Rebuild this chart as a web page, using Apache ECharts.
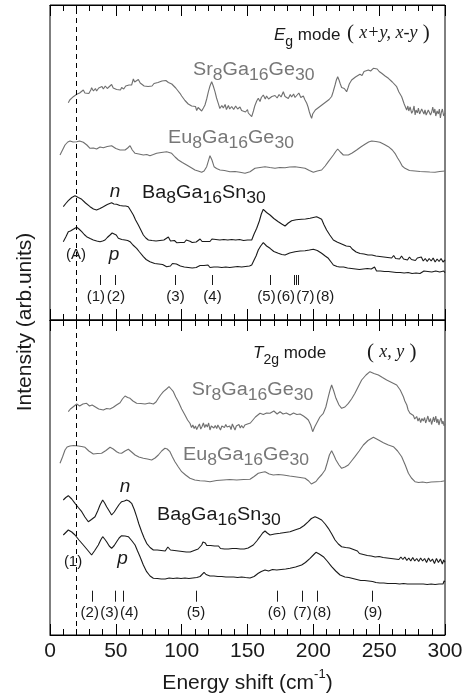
<!DOCTYPE html>
<html><head><meta charset="utf-8">
<script src="https://cdn.jsdelivr.net/npm/echarts@6/dist/echarts.min.js"></script>
<style>html,body{margin:0;padding:0;background:#fff}#c{width:466px;height:698px}</style>
</head><body><div id="c"></div>
<script>
// ---------- data: [energy shift (cm-1), intensity (arb.)] ----------
const xTickValues = [0, 50, 100, 150, 200, 250, 300];

// Eg mode panel
const egSr = [[13.9,217.3],[15,220],[16,218.5],[17.7,223.3],[19,222],[20.3,225.7],[21.5,224],[22.5,227],[24,225.5],[25.3,230],[26.5,227],[28,229],[29.5,226.5],[31,230],[31.6,232.3],[33,229],[34.5,231.5],[35.4,229],[37,232],[38,230],[39.5,233.5],[40.5,231],[42,234],[43.5,231.5],[45,233],[46.8,235.5],[48,232],[49.5,233.5],[50.6,230.5],[52,232.5],[53.5,230],[54.4,232.5],[56,231],[57.5,234],[58.5,232.5],[60,235],[61,237],[62,235],[63.3,241],[64.3,238],[65.5,239.5],[67.1,240.5],[68.5,237],[70,236],[71.5,234],[73,235.5],[74.5,233.5],[76,235],[77.5,234],[79,236.5],[80.5,235],[82,237.5],[83.5,236],[85,239],[86.5,237.5],[88,239.5],[89.9,237.5],[91,239],[92.5,236],[94,234.5],[95.5,232],[97,229.5],[98.7,226.7],[100,224],[101.5,222],[102.5,219.5],[104,218.5],[105,216],[106.5,217.5],[107.6,214],[109,212.5],[110.5,213.5],[111.4,209.5],[112.5,212.5],[114,211],[115.2,209],[116.5,212],[117.7,215],[119,221],[120.3,228.3],[121.5,234],[122.8,238.3],[124,234],[125.3,228.3],[126.5,222],[127.8,216.7],[129,211.5],[130.5,214.5],[131.6,212],[133,215.5],[134,210.5],[135.5,214.5],[136.5,211],[138,213.5],[139.5,210.5],[141,214],[142.5,211],[144.3,213],[145.5,209.5],[147,211.5],[148.5,208],[150,210.5],[150.6,207],[152,209],[153.2,203.3],[154.5,209],[155.5,214],[157,219],[158.2,221.7],[159.5,218.5],[160.5,222.5],[162,225],[163.5,221],[164.5,224],[166,221],[167.1,219.5],[168.5,223.5],[170,221.5],[170.9,224.5],[172.5,222],[174,225.5],[175.5,223],[177.2,228.3],[178.5,223.5],[180,225],[181,221.5],[182.5,225.5],[183.5,223],[185,226],[186.1,222.5],[187.5,224.5],[189,227],[190.5,222.5],[192.4,224],[193.5,220.5],[195,216.7],[196,213],[197,208],[198,204],[198.7,201.7],[199.5,206],[200.5,204.5],[201.5,210],[202.5,208.5],[204,212.5],[205,211.5],[206.5,215],[207.6,214.5],[209,217.5],[210.5,216.5],[212,220.5],[213.9,223.5],[215,228],[216.5,235],[217.5,240],[218.5,243.3],[219.5,240],[220.5,236],[221.5,232.5],[222.5,230.5],[223.5,231.5],[225.3,228.3],[226.3,232],[227.3,236],[228.3,235],[229.1,240],[230.5,239.5],[232,243],[233.5,242],[235.4,245.7],[237,244.5],[238.5,248.5],[240,247.5],[241.8,250],[243.5,249],[245.6,251.7],[247,250.5],[248.5,251],[250,248.5],[251.9,246.7],[253,247.5],[254.5,244],[256,244.5],[257,241.7],[258.5,241],[260,238],[261.5,237.5],[263.3,233.3],[264.3,234.5],[265,228],[266,230],[267.1,223.3],[268,225],[269,216],[270,218],[270.9,210],[271.8,214],[272.5,209],[273.5,213],[274.7,206.7],[275.6,209],[276.5,214],[277.3,205],[278,210],[279,207],[279.8,212],[280.7,206],[281.5,204],[282.3,211],[283,213],[284,206],[284.8,210],[285.7,205],[286.5,203],[287.3,210],[288,212],[289,205],[289.9,208],[290.7,213],[291.5,207],[292.3,211],[293,204],[294,209],[294.9,206],[295.7,211],[296.5,202],[297.3,208],[298,211],[299,204],[300,207]];
const egEu = [[7.6,165],[9.5,170],[11.4,175],[13.5,178],[15.2,179],[17.5,178],[20.3,178.3],[22.5,179],[25.3,177.7],[28,175],[30.4,171.7],[33,172],[35.4,171],[38,173],[40.5,172.3],[43.5,173.5],[46.8,174.3],[50,171.5],[53.2,170],[57,170],[59,172],[60.8,174.3],[62.5,170],[64.6,166.7],[67.5,166],[70.9,165],[73.5,165.5],[75.9,164.3],[78.5,165.5],[81,166.7],[84.5,167.5],[88.6,168.3],[92.4,166.7],[95,163],[97.5,160],[100.5,157.5],[103.8,155],[107,152.5],[110.1,150],[112.5,149],[115.2,147.7],[117,149],[119,153.3],[121.5,164.3],[123,160],[124.6,153.3],[126.5,151.5],[129.1,150],[132.5,149.5],[136.7,148.3],[140.5,148.5],[144.3,147.7],[148.1,146.7],[151.9,148.3],[155.7,151.7],[159.5,152.5],[163.3,153.3],[167,152.5],[170.9,151.7],[174.5,152.5],[178.5,152.3],[182,153],[186.1,153.3],[190,152.5],[193.7,151.7],[197,149.5],[200,147.7],[203,149],[206.3,150],[209,154],[211.4,158.3],[213.5,162],[215.2,165],[217,168.5],[218.5,171],[220.5,168],[222.8,165],[226.6,165],[229.5,167],[232.9,170],[236,173],[239.2,175.7],[242,178],[244.3,179],[247.5,178.5],[250.6,177.7],[254,175.5],[257,173.3],[260,170],[262,166.7],[264,162],[265.8,158.3],[267.5,154],[269.6,151.7],[273,149.5],[277.2,149],[281,148.5],[284.8,148.3],[288.5,148],[292.4,147.7],[296,148.5],[300,149]];
const egBaN = [[10.1,113.3],[12,116.5],[13.9,119.3],[16.5,122.5],[19,124.3],[21.5,122.5],[24.1,120.7],[27,117],[30.4,113.3],[33,111],[35.4,110],[38,111.5],[40.5,113.3],[43.5,115.5],[46.8,117.3],[48.5,116],[50.6,115.7],[53,114.5],[55.7,114],[57.5,114],[59.5,113.3],[61.5,109],[63.3,105],[65,100],[67.1,95],[69,90],[70.9,85],[72.8,82],[74.7,80],[76,78.5],[77.5,79.5],[79,78],[80.5,79],[82,77.5],[83.5,79.5],[85,78.5],[86.5,80],[88,79],[89.9,83],[91.5,79],[93,78],[94.5,79.5],[96.2,77.3],[97.5,78.8],[99,77.5],[100.5,79],[102,77.5],[103.5,80],[105,78],[106.3,78.8],[108,77.5],[109.5,79.5],[111,78],[112.5,80],[114,81],[115.5,78.5],[117,80],[118.5,78.5],[120,80.5],[121.5,78.5],[123,81],[124.5,79],[126,80.5],[127.5,78.5],[129,80],[130.5,79],[132,80.5],[133.5,78.5],[135,80],[136.5,79],[138,80.5],[139.5,78.5],[141,80],[142.5,79],[144,80.5],[145.5,78.5],[147,79.5],[148.5,78.5],[150,80],[151.5,79],[153.2,80],[155,86],[157,91.7],[159,99],[160.5,106],[162,110.7],[164.5,107.5],[167.1,105],[170,101.5],[173.4,98.3],[176,96],[178.5,94],[181,97],[183.5,99.3],[187,100.2],[191.1,100.7],[194,101],[197.5,101.7],[200,102.5],[202.5,103.3],[204.5,102],[206.3,100.7],[208,95.5],[210.1,90],[212.5,85],[215.2,80],[218,78],[221.5,76],[225,74],[226.5,72.5],[228,73.5],[229.5,71],[231,70],[232.5,68],[234,68.5],[235.5,66.5],[237,67.5],[238.5,66],[240,67],[241.5,65],[243,66.5],[244.5,65],[246,66.5],[247.5,64],[249,65.5],[250.5,63.5],[252,65],[253.5,63],[255,64.5],[256.5,62.5],[258,64],[259.5,62],[261,64.5],[262.5,61.5],[264,63],[265.5,61],[267,64],[268.5,61],[270,62.5],[271.5,60],[273,63],[274.5,60.5],[276,62.5],[277.5,59.5],[279,62],[280.5,60],[282,63],[283.5,59],[285,61.5],[286.5,58.5],[288,61.5],[289.5,59],[291,62],[292.5,58],[294,61],[295.5,58.5],[297,61.5],[298.5,58],[300,60]];
const egBaP = [[10.1,78.3],[12,83],[13.9,88.3],[15.5,89],[17.7,90.7],[19,91],[20.3,92.7],[22,91],[24.1,88.3],[26,85.5],[27.8,83.3],[30.5,81.5],[32.9,80],[35.5,79],[38,78.3],[40,79],[41.8,80],[43.5,82.5],[45.6,85],[47.2,87],[48.6,88.3],[50.3,85],[51.9,81.7],[54.5,80.5],[57,80],[59,79.5],[60.8,78.3],[63,75],[65.8,71.7],[68,68],[70.9,63.3],[73,60.5],[75.9,58.3],[79.5,56.5],[81,55.5],[82.5,56],[84,54.5],[85.5,55.5],[87,53.5],[88.6,53.3],[90,55],[91.5,54],[93,56.5],[94.5,55],[96,56],[97.5,54.5],[99,54],[100.5,55],[102,53],[103.5,54.5],[105,52.5],[106.5,53.5],[108,52],[109.5,54],[111,52.5],[112.5,53.5],[114,54.5],[115.5,53],[117,54.5],[118.5,53],[120,55],[121.5,52.5],[123,54.5],[124.5,53],[126,55],[127.5,53],[129,54.5],[130.5,52.5],[132,54.5],[133.5,53],[135,54.5],[136.5,52.5],[138,54],[139.5,53],[141,55],[142.5,53.5],[144,55],[145.5,53],[147,54.5],[148.5,53.5],[150,55],[151.5,54],[153.2,55],[155,60],[156.5,64],[158.2,70],[160,74],[162,77.3],[164.5,74],[167.1,71.7],[170,68.5],[173.4,66.7],[176,65.5],[178.5,65],[182,67],[186.1,68.3],[190,69],[193.7,69.3],[197,70],[200,70.7],[203,69.5],[206.3,66.7],[209,64],[211.4,61.7],[213.5,58],[215.2,55],[218,53.5],[220,53],[221.5,52],[223,53],[224.5,51],[226,52],[227.5,50.5],[229,51.5],[230.5,50],[232,51],[233.5,49.5],[235,50.5],[236.5,49.5],[238,51],[239.5,50],[241,51.5],[242.5,49.5],[244,51],[245.5,52.5],[246.5,53],[248,49],[249.5,50.5],[251,49],[252.5,50.5],[254,48.5],[255.5,50],[257,48.5],[258.5,50],[260,48],[261.5,49.5],[263,47.5],[264.5,49],[266,47.5],[267.5,49],[269,47],[270.5,49],[272,47.5],[273.5,48.5],[275,46.5],[276.5,48.5],[278,47],[279.5,48.5],[281,46.5],[282.5,48.5],[284,49],[285.5,47],[287,48.5],[288.5,46.5],[290,48],[291.5,46.5],[293,49],[294.5,47],[296,48],[297.5,46.5],[299,49],[300,47.3]];

// T2g mode panel
const t2Sr = [[13.9,223.3],[15.5,226],[17.7,228.3],[20.3,231],[22.5,229],[25,231],[27.8,231.7],[30,229],[32,230],[34.2,228.3],[37,226],[40.5,225],[43,226.5],[45.5,226],[48.1,227.7],[50.5,230],[53.2,232.3],[55,236],[57,239],[59,237.5],[60.8,236.7],[63,234],[65.8,231.7],[69,231.5],[72.2,231],[75.5,232],[78.5,231],[80.5,233],[82.3,236.7],[84,240],[86.1,243.3],[88.5,246],[90.4,248.3],[92,246],[93.7,243.3],[95.5,238],[97.5,233.3],[100,226],[102.5,220],[104.5,215],[105.5,213],[106.3,211.7],[107.5,207.5],[108.5,210],[109.5,206.5],[110.5,209],[111.4,205.5],[112.5,208.5],[113.5,211],[114.5,206],[115.5,208.5],[116.5,212],[117.5,207.5],[118.5,210.5],[119.5,208],[120.5,212],[121.5,205],[122.5,209],[123.5,211],[124.5,207],[125.5,209.5],[126.6,206.5],[127.5,210],[128.5,207.5],[129.5,205],[130.5,209],[131.5,211],[132.5,207.5],[133.5,210.5],[134.5,208],[135.5,206],[136.5,209],[137.5,205.5],[138.5,211],[139.5,208],[140.5,205],[141.5,209],[142.5,207],[143.5,210.5],[144.5,207],[145.5,209.5],[146.8,207],[148,210],[149,208],[150,211],[151,209.5],[152.2,212],[153.2,213.3],[156,218],[159.5,221.7],[162,220.5],[164.5,222],[167.1,221.7],[170,224],[172.5,221],[174.7,223.3],[177,221],[179.5,222],[182.3,220],[185,222],[187.5,220.5],[189.9,221],[192.5,219],[194.5,217],[196.2,215],[198,210],[199.5,203.3],[201,208],[202.5,211.7],[205,218],[207.6,221.7],[209.5,228],[211.4,238.3],[212.7,245],[213.9,250],[215.5,244],[217.2,236.7],[219.5,230],[221.5,226.7],[224,228],[226.6,231.7],[229,236],[231.6,241.7],[234,248],[236.7,255],[240,260],[243,263.3],[246,261.5],[249.4,260],[252.5,257.5],[255.7,255],[259.5,252.5],[263.3,250],[266,245],[268.4,238.3],[269.5,234],[271,230],[272,225],[273.4,221.7],[274.5,220],[276,219.5],[277,216],[278.5,218.5],[279.5,214],[280.5,217],[281.5,212.5],[282.5,216.5],[283.5,214],[284.5,217.5],[285.3,212],[286.1,215],[287,219],[288,213],[289,216.5],[289.8,210.5],[290.5,214],[291.3,218],[292,213],[293,219],[293.8,212],[294.6,216],[295.4,210],[296.2,214.5],[297,217],[297.8,211],[298.5,214],[299.3,209],[300,211]];
const t2Eu = [[7.6,171.7],[9.5,178],[11.4,185],[13,188],[15.2,189],[18,189.5],[21.5,189],[24,188.5],[26.6,187.7],[29.5,184],[32.9,181],[36,181.5],[39.2,181.7],[42.5,184.5],[45.6,187.7],[48,186],[50.6,183.3],[52.5,182],[54.4,181.7],[57,184],[59.5,185.7],[62,183],[64.6,180],[67.5,178],[70.9,176.7],[74,176],[77.2,175],[79.8,177],[82.3,180],[84.8,184],[87.3,186.7],[89,186],[91.1,183.3],[93,178],[94.9,173.3],[97.5,168],[100,163.3],[103,160],[106.3,156.7],[110,155],[113.9,154.3],[117.5,154],[121.5,153.3],[126.5,154.5],[131.6,155],[136.5,155.5],[141.8,155],[147,155.5],[151.9,155.7],[155,158.5],[158.2,161.7],[160.5,162.5],[163.3,163.3],[166.5,161],[169.6,160],[173.5,160.5],[177.2,160],[182,159],[186.1,158.3],[190,157.5],[193.7,156.7],[196.5,154],[198.5,151],[200,150],[202,153.5],[203.8,156.7],[206.5,160.5],[208.9,165],[210.5,172],[212.2,180],[213.9,184.3],[215.5,180],[217.2,175],[219.5,170],[221.5,166.7],[224,168],[226.6,170],[229,174],[231.6,178.3],[234.8,184],[238,190],[241.5,194.5],[245.6,197.7],[249.5,195],[253.2,192.3],[257,190],[260.8,188.3],[264,184],[267.1,178.3],[269.8,170],[272.2,161.7],[274.5,157],[277.2,153.3],[280,152.5],[283,153],[286.1,152.3],[289.5,153],[293.7,153.3],[297,153.5],[300,154.3]];
const t2BaN = [[10.1,135],[12,137.5],[13.9,139.3],[16.5,136],[19,131.7],[21.5,127.5],[24.1,123.3],[26.5,118],[29.1,113.3],[31.5,115.5],[34.2,118.3],[36.2,124],[38,130],[40,135],[41.5,132],[43,128.3],[45,124],[46.8,120],[48.8,123],[50.6,126.7],[52.5,130.5],[54.4,133.3],[56.5,134],[58.2,135],[60,134],[62,131.7],[64,125.5],[65.8,118.3],[67.5,111],[69.6,103.3],[71.5,97],[73.4,91.7],[76,87.5],[78.5,85],[80,83.5],[81.5,85],[83,83.5],[84.5,84.5],[86,82.5],[87.5,84],[88.5,84.5],[89.5,88],[90.5,87],[91.5,85],[93,83.5],[94.5,84.5],[96,82.5],[97.5,84],[99,82],[100.5,83.5],[102,81.5],[103.5,83],[105,81.5],[106.5,83],[108,82.5],[109.5,84.5],[111,84],[112.5,86],[113.5,87.5],[115.2,90],[116.2,93],[117,95],[118,92],[119,89.5],[120.5,88],[122,89.5],[123.5,87.5],[125,89],[126.5,87.5],[128,89],[129.5,86.5],[131,88],[132.5,86],[134,87.5],[135.5,86],[137,88],[138.5,86.5],[140,88],[141.5,86.5],[143,88],[144.5,86],[146,87.5],[147.5,86],[149,88],[150.5,87],[152,88.5],[154.4,90],[157,94],[159.5,98.3],[161.5,102],[163.3,104],[165,102],[167.1,100],[170.5,101],[174.7,101.7],[178.5,102.5],[182.3,103.3],[186,105],[189.9,106.7],[193,109.5],[196.2,113.3],[198.5,116.5],[201.3,118.3],[203.5,117],[206.3,115],[209,111],[211.4,106.7],[214,101],[216.5,95],[219,91],[221.5,88.3],[224.5,87.5],[226,86],[227.5,87],[229,85],[230.5,85.5],[232,83.5],[233.5,84],[235,81.5],[236.5,82.5],[238,80.5],[239.5,81.5],[241,79.5],[242.5,81],[244,79],[245.5,80.5],[247,78],[248.5,80],[250,78.5],[251.5,80],[253,77.5],[254.5,79.5],[256,77],[257.5,79],[259,76.5],[260.5,78.5],[262,76],[263.5,78],[265,75.5],[266.5,78],[268,75.5],[269.5,78],[271,74.5],[272.5,77],[274,74],[275.5,77.5],[277,74],[278.5,76.5],[280,73.5],[281.5,77],[283,74],[284.5,76.5],[286,72.5],[287.5,77],[289,73.5],[290.5,76],[292,71.5],[293.5,76.5],[295,72.5],[296.5,76],[298,71],[299,75],[300,72.7]];
const t2BaP = [[10.1,100],[12,102.5],[13.9,105],[16.5,103],[19,100],[22,95],[25.3,90],[28.5,85],[31.6,80],[34,84.5],[36.7,90],[38.5,95],[40,98.3],[41.5,96],[43,93.3],[45,89],[46.8,86.7],[48.8,89.5],[50.6,93.3],[52.5,97],[54.4,99.3],[57,99],[59.5,98.3],[62,94.5],[64.6,90],[66.5,84],[68.4,78.3],[70.9,70],[73.4,63.3],[76,59],[78.5,56.7],[80,55.5],[81.5,56.5],[83,55],[84.5,56],[86,54.5],[87.5,56],[89,55],[90.5,57],[92,55],[93.5,56.5],[95,55],[96.5,57],[98,55.5],[99.5,56.5],[101,55],[102.5,57],[104,55.5],[105.5,56.5],[107,55],[108.5,57],[110,56],[111.5,57.5],[113,57],[114,58.5],[115.5,60.5],[117,62.7],[118.5,60.5],[120,58.5],[121.5,59],[123,57.5],[124.5,59],[126,57],[127.5,58.5],[129,57],[130.5,58.5],[132,57],[133.5,58],[135,56.5],[136.5,58],[138,56.5],[139.5,58],[141,56.5],[142.5,57.5],[144,56],[145.5,58],[147,56.5],[148.5,57.5],[150,56],[151.9,57],[155,58.5],[158.2,61.7],[160.5,63.5],[163.3,65],[166,64],[169,65.5],[172.2,65],[175.5,65.5],[179,66],[182.3,66.7],[186.5,68],[191.1,70],[194,72.5],[197.5,76.7],[200,80],[202,82.7],[204.5,81],[207.6,78.3],[210.5,74],[213.9,68.3],[217,64],[220.3,60],[224,58],[225.5,57],[227,57.5],[228.5,56],[230,56.5],[231.5,55],[233,55.5],[234.5,53.5],[236,54.5],[237.5,53],[239,54.5],[240.5,53],[242,54],[243.5,52],[245,53.5],[246.5,55],[247.5,52.5],[249,53.5],[250.5,52],[252,53.5],[253.5,52],[255,53.5],[256.5,51.5],[258,53],[259.5,51.5],[261,53],[262.5,51.5],[264,52.5],[265.5,51],[267,53],[268.5,51.5],[270,53],[271.5,51],[273,52.5],[274.5,51],[276,53],[277.5,51],[279,52.5],[280.5,51],[282,53],[283.5,51],[285,52.5],[286.5,50.5],[288,52.5],[289.5,51],[291,52.5],[292.5,50.5],[294,52],[295.5,51],[297,52.5],[298.5,51],[299.3,54],[300,53.3]];

// Mode positions (cm-1) and labels
const refLineE = 20;
const egModeE = [38, 49.4, 95.4, 123.3, 167.1, 185.3, 186.8, 188.6];
const egModeLabels = ['(1)','(2)','(3)','(4)','(5)','(6)','(7)','(8)'];
const egModeLabelE = [34.9, 50.1, 95.3, 123.4, 164.4, 179.2, 194, 208.9];
const t2ModeE = [31.9, 49.4, 55.7, 110.9, 172.9, 191.6, 203.3, 245.1];
const t2ModeLabels = ['(2)','(3)','(4)','(5)','(6)','(7)','(8)','(9)'];
const t2ModeLabelE = [30.2, 45.2, 60.2, 110.9, 172.4, 191.8, 206.6, 245.3];

// ---------- chart ----------
const GRAY = '#6f6f6f', GRAYTXT = '#777777', BLACK = '#1a1a1a', FONT = 'Liberation Sans, Arial, sans-serif', SERIF = 'Liberation Serif, Times New Roman, serif';
const chart = echarts.init(document.getElementById('c'), null, {renderer: 'canvas'});

function xAx(grid, pos, labels) {
  return {
    gridIndex: grid, type: 'value', min: 0, max: 300, interval: 50, position: pos,
    axisLine: {show: true, onZero: false, lineStyle: {color: '#000', width: 1}},
    axisTick: {show: true, inside: true, length: 11, lineStyle: {color: '#000', width: 1}},
    minorTick: {show: true, splitNumber: 5, length: 6, lineStyle: {color: '#000', width: 1}},
    splitLine: {show: false},
    axisLabel: {show: labels, margin: 6, color: BLACK, fontSize: 21, fontFamily: FONT,
      customValues: xTickValues},
    name: labels ? '{a|Energy shift (cm}{b|-1}{a|)}' : '',
    nameLocation: 'middle', nameGap: 33,
    nameTextStyle: {color: BLACK, fontFamily: FONT, rich: {
      a: {fontSize: 21, fontFamily: FONT, color: BLACK, lineHeight: 26, verticalAlign: 'bottom'},
      b: {fontSize: 13, fontFamily: FONT, color: BLACK, lineHeight: 12, verticalAlign: 'top'}
    }}
  };
}
function yAx(grid) { return {gridIndex: grid, type: 'value', min: 0, max: 315, show: false}; }
function line(data, color, xi, yi, extra) {
  return Object.assign({type: 'line', data, xAxisIndex: xi, yAxisIndex: yi, symbol: 'none', showSymbol: false,
    lineStyle: {color, width: 1.1}, silent: true, animation: false, z: 3}, extra || {});
}
function marks(modeE, top, bottom) {
  const d = [{xAxis: refLineE, lineStyle: {type: [5, 4], color: '#000', width: 1}}];
  modeE.forEach(e => d.push([{coord: [e, top]}, {coord: [e, bottom]}]));
  return {markLine: {symbol: 'none', silent: true, animation: false, label: {show: false},
    lineStyle: {type: 'solid', color: BLACK, width: 1}, data: d}};
}

chart.setOption({
  animation: false,
  backgroundColor: '#fff',
  grid: [
    {left: 50, right: 21, top: 5, height: 315, show: true, borderColor: '#000', borderWidth: 1},
    {left: 50, right: 21, top: 320, height: 315, show: true, borderColor: '#000', borderWidth: 1}
  ],
  xAxis: [xAx(0, 'bottom', false), xAx(0, 'top', false), xAx(1, 'bottom', true), xAx(1, 'top', false)],
  yAxis: [yAx(0), yAx(1)],
  series: [
    line(egSr, GRAY, 0, 0), line(egEu, GRAY, 0, 0), line(egBaN, BLACK, 0, 0),
    line(egBaP, BLACK, 0, 0, marks(egModeE, 45, 35)),
    line(t2Sr, GRAY, 2, 1), line(t2Eu, GRAY, 2, 1), line(t2BaN, BLACK, 2, 1),
    line(t2BaP, BLACK, 2, 1, marks(t2ModeE, 44.3, 33.3))
  ]
});

// ---------- text annotations placed through the axes ----------
const richSample = {
  m: {fontSize: 18, fontFamily: FONT},
  s: {fontSize: 16, fontFamily: FONT, padding: [11, 0, 0, 0]}
};
const richMode = {
  i: {fontSize: 17, fontFamily: FONT, fontStyle: 'italic'},
  m: {fontSize: 17, fontFamily: FONT},
  s: {fontSize: 14, fontFamily: FONT, padding: [14, 0, 0, 0]}
};
const richPol = {
  p: {fontSize: 21, fontFamily: SERIF},
  v: {fontSize: 18, fontFamily: SERIF, fontStyle: 'italic'}
};
function sample(t) { return t.replace(/([A-Z][a-z]?)(\d+)/g, '{m|$1}{s|$2}'); }

const notes = [
  // [seriesIndex, E, I, text, rich, color, scaleX]
  [0, 170.1, 285, '{i|E}{s|g}{m| mode}', richMode, BLACK, 1],
  [0, 225.6, 287, '{p|( }{v|x+y, x-y}{p| )}', richPol, BLACK, 1],
  [0, 108.6, 249.5, sample('Sr8Ga16Ge30'), richSample, GRAYTXT, 1.1],
  [0, 89.6, 182, sample('Eu8Ga16Ge30'), richSample, GRAYTXT, 1.1],
  [0, 69.9, 127, sample('Ba8Ga16Sn30'), richSample, BLACK, 1.1],
  [4, 154.2, 282, '{i|T}{s|2g}{m| mode}', richMode, BLACK, 1],
  [4, 240.7, 283, '{p|( }{v|x, y}{p| )}', richPol, BLACK, 1],
  [4, 107.6, 245, sample('Sr8Ga16Ge30'), richSample, GRAYTXT, 1.1],
  [4, 101, 180, sample('Eu8Ga16Ge30'), richSample, GRAYTXT, 1.1],
  [4, 81.3, 120, sample('Ba8Ga16Sn30'), richSample, BLACK, 1.1]
];
const simple = [
  // [seriesIndex, E, I, text, font]
  [0, 49.4, 128, 'n', 'italic 19px ' + FONT],
  [0, 48.6, 65, 'p', 'italic 19px ' + FONT],
  [0, 19.7, 65, '(A)', '15px ' + FONT],
  [4, 57, 148, 'n', 'italic 19px ' + FONT],
  [4, 55, 76, 'p', 'italic 19px ' + FONT],
  [4, 17.5, 73, '(1)', '15px ' + FONT]
];
egModeLabels.forEach((t, i) => simple.push([0, egModeLabelE[i], 23, t, '15px ' + FONT]));
t2ModeLabels.forEach((t, i) => simple.push([4, t2ModeLabelE[i], 22, t, '15px ' + FONT]));

const graphics = [];
notes.forEach(n => {
  const p = chart.convertToPixel({seriesIndex: n[0]}, [n[1], n[2]]);
  graphics.push({type: 'text', x: p[0], y: p[1], scaleX: n[6], silent: true, z: 10,
    style: {text: n[3], rich: n[4], fill: n[5], align: 'left', verticalAlign: 'middle', font: '17px ' + FONT}});
});
simple.forEach(n => {
  const p = chart.convertToPixel({seriesIndex: n[0]}, [n[1], n[2]]);
  graphics.push({type: 'text', x: p[0], y: p[1], silent: true, z: 10,
    style: {text: n[3], fill: BLACK, align: 'center', verticalAlign: 'middle', font: n[4]}});
});
graphics.push({type: 'text', x: 25, y: 322, rotation: Math.PI / 2, silent: true,
  style: {text: 'Intensity (arb.units)', fill: BLACK, align: 'center', verticalAlign: 'middle', font: '21px ' + FONT}});
chart.setOption({graphic: graphics});
</script>
</body></html>
